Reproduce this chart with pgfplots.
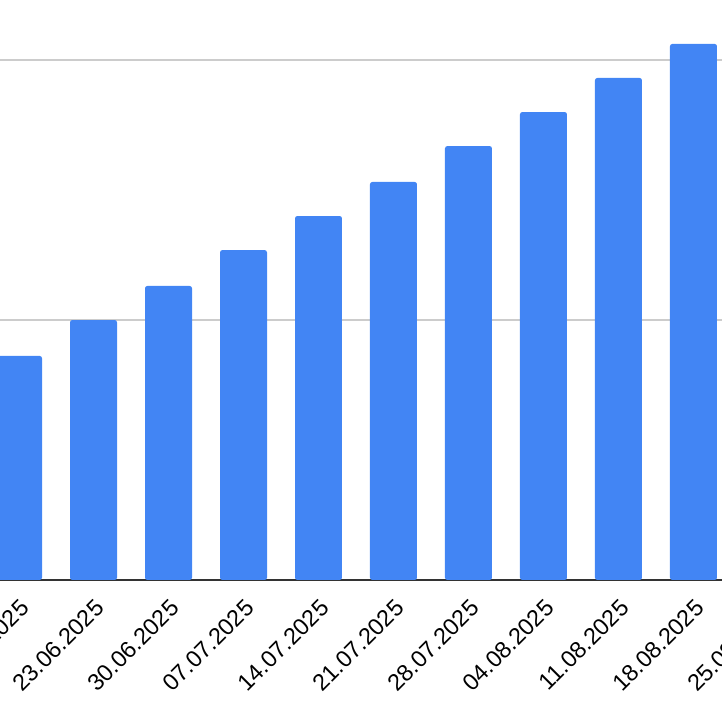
\documentclass[border=0pt]{standalone}
\usepackage{pgfplots}
\pgfplotsset{compat=1.18}
\usepackage{fontspec}
\setmainfont{Liberation Sans}
\definecolor{barblue}{HTML}{4285F4}
\definecolor{gridgray}{HTML}{CCCCCC}
\definecolor{axisdark}{HTML}{333333}
\begin{document}
\begin{tikzpicture}
\begin{axis}[
    scale only axis,
    width=450pt, height=325pt,
    xmin=-1, xmax=11,
    ymin=0, ymax=2.5,
    axis x line*=bottom,
    axis y line*=left,
    x axis line style={draw=axisdark, line width=1pt, -},
    y axis line style={draw=none},
    xtick={0,...,10},
    xticklabels={16.06.2025,23.06.2025,30.06.2025,07.07.2025,14.07.2025,21.07.2025,28.07.2025,04.08.2025,11.08.2025,18.08.2025,25.08.2025},
    x tick label style={rotate=45, anchor=east, font=\fontsize{11.7}{13}\selectfont, xshift=-2.8pt, yshift=-10.7pt},
    major tick length=0pt,
    ytick={1,2},
    yticklabels={},
    ymajorgrids,
    grid style={draw=gridgray, line width=0.65pt},
    clip=false,
]
\addplot[ybar, bar width=23.5pt, fill=barblue, draw=none, rounded corners=1.2pt]
    coordinates {(0,0.862) (1,1.000) (2,1.131) (3,1.269) (4,1.400)
                 (5,1.531) (6,1.669) (7,1.800) (8,1.931) (9,2.062)};
\coordinate (bl) at (axis cs:-0.2467,-0.5462);
\coordinate (tr) at (axis cs:9.3800,2.2308);
\end{axis}
\pgfresetboundingbox
\path[use as bounding box] (bl) rectangle (tr);
\end{tikzpicture}
\end{document}
